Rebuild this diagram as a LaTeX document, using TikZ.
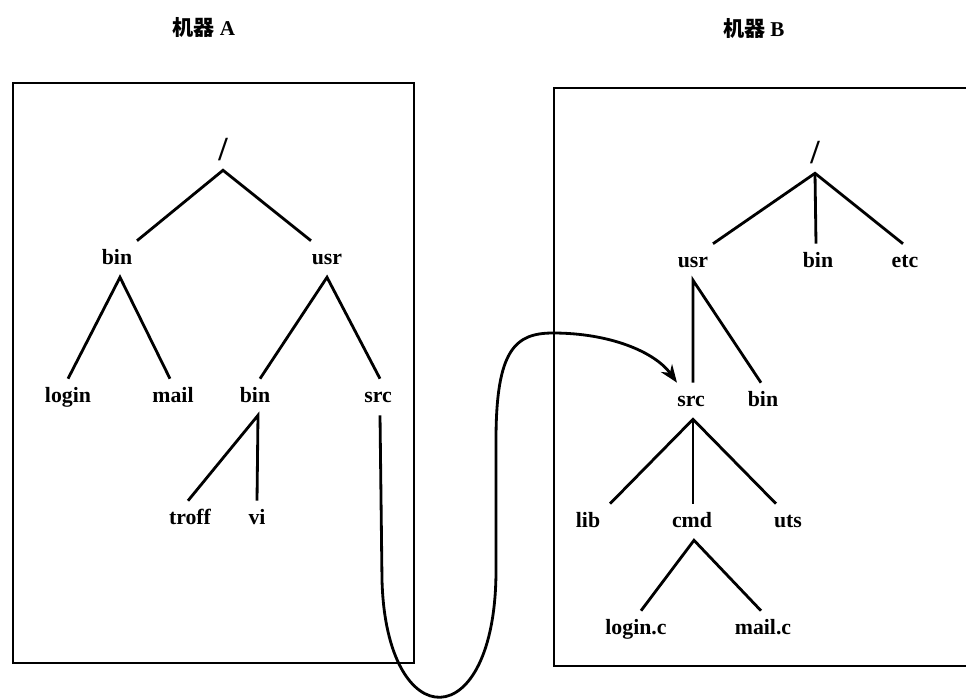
\documentclass[tikz,border=0pt]{standalone}
\usepackage{fontspec}
\setmainfont{Liberation Serif}
\newfontfamily\cjk{Noto Sans CJK SC}
\usetikzlibrary{arrows.meta}
\begin{document}
\begin{tikzpicture}[x=0.025cm,y=-0.025cm,
  dir/.style={inner sep=0pt,minimum height=0.9cm,text height=11pt,text depth=3pt,font=\bfseries\fontsize{15.5}{18}\selectfont},
  rootdir/.style={dir,font=\bfseries\fontsize{24}{26}\selectfont,text height=15pt},
  title/.style={font=\cjk\bfseries\fontsize{15}{17}\selectfont},
  link/.style={line width=2pt},
  mount/.style={line width=2pt,-{Stealth[length=0.45cm,width=0.34cm]}}]
\useasboundingbox (0,0) rectangle (966,698);
\clip (0,0) rectangle (966,698);

\node[title] (titleA) at (204,27) {机器 {\bfseries\rmfamily A}};
\node[title] (titleB) at (754,28) {机器 {\bfseries\rmfamily B}};

\draw[line width=1.7pt] (13,83) rectangle (414,663);
\draw[line width=1.7pt] (554,88) rectangle (1000,666);

\node[rootdir] (rootA) at (223,152) {/};
\node[dir] (binA) at (117,259) {bin};
\node[dir] (usrA) at (327,259) {usr};
\node[dir] (login) at (68,397) {login};
\node[dir] (mail) at (173,397) {mail};
\node[dir] (usrbinA) at (255,397) {bin};
\node[dir] (srcA) at (378,397) {src};
\node[dir] (troff) at (190,519) {troff};
\node[dir] (vi) at (257,519) {vi};

\draw[link] ([shift={(20,0)}]binA.north) -- (rootA.south) -- ([shift={(-16,0)}]usrA.north);
\draw[link] (login.north) -- ([shift={(3,0)}]binA.south) -- ([shift={(-3,0)}]mail.north);
\draw[link] ([shift={(5,0)}]usrbinA.north) -- (usrA.south) -- ([shift={(2,0)}]srcA.north);
\draw[link] ([shift={(-2,0)}]troff.north) -- ([shift={(3,0)}]usrbinA.south) -- (vi.north);

\node[rootdir] (rootB) at (815,155) {/};
\node[dir] (usrB) at (693,262) {usr};
\node[dir] (binB) at (818,262) {bin};
\node[dir] (etc) at (905,262) {etc};
\node[dir] (srcB) at (691,401) {src};
\node[dir] (usrbinB) at (763,401) {bin};
\node[dir] (lib) at (588,522) {lib};
\node[dir] (cmd) at (692,522) {cmd};
\node[dir] (uts) at (788,522) {uts};
\node[dir] (loginc) at (636,629) {login.c};
\node[dir] (mailc) at (763,629) {mail.c};

\draw[link] ([shift={(20,0)}]usrB.north) -- (rootB.south) -- ([shift={(-2,0)}]etc.north);
\draw[link] (rootB.south) -- ([shift={(-2,0)}]binB.north);
\draw[link] ([shift={(2,0)}]srcB.north) -- (usrB.south) -- ([shift={(-2,0)}]usrbinB.north);
\draw[link] ([shift={(22,0)}]lib.north) -- ([shift={(2,0)}]srcB.south) -- ([shift={(-12,0)}]uts.north);
\draw[link] ([shift={(2,0)}]srcB.south) -- ([shift={(1,0)}]cmd.north);
\draw[link] ([shift={(5,0)}]loginc.north) -- ([shift={(2,0)}]cmd.south) -- ([shift={(-2,0)}]mailc.north);

\draw[mount] ([shift={(2,0)}]srcA.south) -- (382,580)
  .. controls (386,738) and (496,738) .. (496,570) -- (496,440)
  .. controls (496,350) and (515,333) .. (553,333)
  .. controls (610,333) and (655,352) .. (srcB.north west);
\end{tikzpicture}
\end{document}
